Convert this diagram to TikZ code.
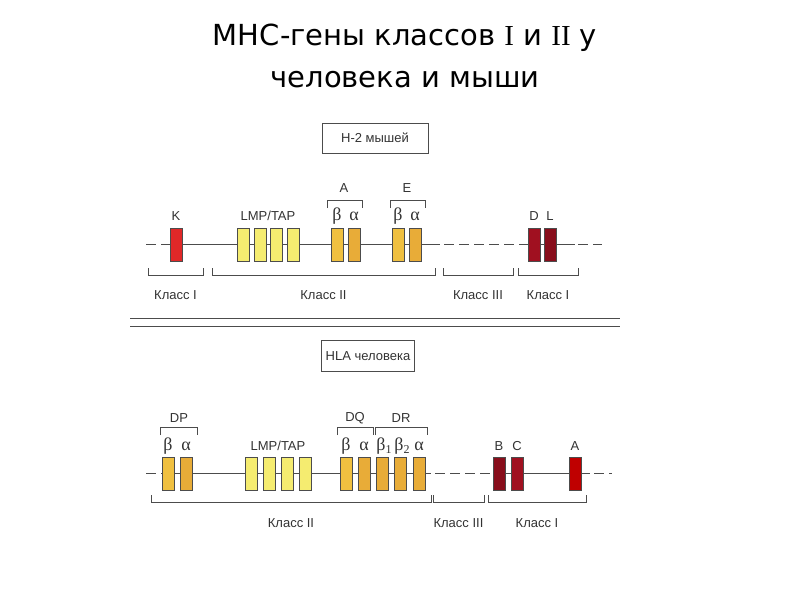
\documentclass[tikz,border=0pt]{standalone}
\usepackage{fontspec}
\setmainfont{DejaVu Sans}
\newfontfamily\lab{Liberation Sans}
\newfontfamily\ser{Liberation Serif}
\begin{document}
\begin{tikzpicture}[x=1pt,y=-1pt,
  gene/.style={draw=black!70,line width=0.5pt,minimum width=12pt,minimum height=33pt,inner sep=0pt,anchor=north west},
  lt/.style={font=\lab\fontsize{13}{13}\selectfont,text=black!80},
  gr/.style={font=\ser\fontsize{18}{18}\selectfont,text=black!80,inner sep=1pt},
  ln/.style={black!70,line width=0.7pt},
  dl/.style={ln,dash pattern=on 10pt off 5pt}]
\useasboundingbox[fill=white] (0,0) rectangle (800,600);
\definecolor{red1}{HTML}{E02828}
\definecolor{dred}{HTML}{A01020}
\definecolor{ly}{HTML}{F5EC70}
\definecolor{gy}{HTML}{F0C040}
\definecolor{gy2}{HTML}{E8AC38}
\node[font=\fontsize{29}{29}\selectfont] (t1) at (405,38) {MHC-гены классов {\ser I} и {\ser II} у};
\node[font=\fontsize{29}{29}\selectfont] (t2) at (405,80) {человека и мыши};
% top
\node[draw=black!70,lt,minimum width=106pt,minimum height=30pt] (h2) at (375,138) {H-2 мышей};
\draw[dl] (146,244) -- (170,244);
\draw[ln] (170,244) -- (440,244);
\draw[dl] (444,244) -- (522,244);
\draw[ln] (522,244) -- (575,244);
\draw[dl] (578,244) -- (602,244);
\node[gene,fill=red1] (K) at (170,228) {};
\foreach \x/\n in {237/m1,254/m2,270/m3,287/m4}{\node[gene,fill=ly] (\n) at (\x,228) {};}
\node[gene,fill=gy] (Ab) at (331,228) {};
\node[gene,fill=gy2] (Aa) at (348,228) {};
\node[gene,fill=gy] (Eb) at (392,228) {};
\node[gene,fill=gy2] (Ea) at (409,228) {};
\node[gene,fill=dred] (D) at (528,228) {};
\node[gene,fill=dred!85!black] (L) at (544,228) {};
\node[lt] (lK) at (176,216) {K};
\node[lt] (lLMP) at (268,216) {LMP/TAP};
\node[gr] (lAb) at (337,216) {β};
\node[gr] (lAa) at (354,216) {α};
\node[gr] (lEb) at (398,216) {β};
\node[gr] (lEa) at (415,216) {α};
\node[lt] (lD) at (534,216) {D};
\node[lt] (lL) at (550,216) {L};
\node[lt] (lA) at (344,188) {A};
\node[lt] (lE) at (407,188) {E};
\draw[ln,line width=0.5pt] (327,208) -- (327,200) -- (362,200) -- (362,208);
\draw[ln,line width=0.5pt] (390,208) -- (390,200) -- (425,200) -- (425,208);
\foreach \a/\b/\t/\n in {148/203/Класс I/c1,212/435/Класс II/c2,443/513/Класс III/c3,518/578/Класс I/c4}{
  \draw[ln,line width=0.5pt] (\a,268) -- (\a,275) -- (\b,275) -- (\b,268);
  \node[lt] (\n) at ({(\a+\b)/2},295) {\t};}
\draw[ln,line width=0.8pt] (130,318) -- (620,318) (130,326) -- (620,326);
% bottom
\node[draw=black!70,lt,minimum width=93pt,minimum height=31pt] (hla) at (368,356) {HLA человека};
\draw[dl] (146,473) -- (162,473);
\draw[ln] (162,473) -- (431,473);
\draw[dl] (435,473) -- (493,473);
\draw[ln] (493,473) -- (590,473);
\draw[dl] (594,473) -- (612,473);
\node[gene,fill=gy] (Pb) at (162,457) {};
\node[gene,fill=gy2] (Pa) at (180,457) {};
\foreach \x/\n in {245/n1,263/n2,281/n3,299/n4}{\node[gene,fill=ly] (\n) at (\x,457) {};}
\node[gene,fill=gy] (Qb) at (340,457) {};
\node[gene,fill=gy2] (Qa) at (358,457) {};
\node[gene,fill=gy2] (Rb1) at (376,457) {};
\node[gene,fill=gy2] (Rb2) at (394,457) {};
\node[gene,fill=gy2] (Ra) at (413,457) {};
\node[gene,fill=dred!85!black] (B) at (493,457) {};
\node[gene,fill=dred] (C) at (511,457) {};
\node[gene,fill=red!75!black] (Ah) at (569,457) {};
\node[gr] (lPb) at (168,446) {β};
\node[gr] (lPa) at (186,446) {α};
\node[lt] (lLMP2) at (278,446) {LMP/TAP};
\node[gr] (lQb) at (346,446) {β};
\node[gr] (lQa) at (364,446) {α};
\node[gr] (lRb1) at (384,446) {β\raisebox{-3pt}{\fontsize{12}{12}\selectfont 1}};
\node[gr] (lRb2) at (402,446) {β\raisebox{-3pt}{\fontsize{12}{12}\selectfont 2}};
\node[gr] (lRa) at (419,446) {α};
\node[lt] (lB) at (499,446) {B};
\node[lt] (lC) at (517,446) {C};
\node[lt] (lAh) at (575,446) {A};
\node[lt] (lDP) at (179,418) {DP};
\node[lt] (lDQ) at (355,418) {DQ};
\node[lt] (lDR) at (401,418) {DR};
\draw[ln,line width=0.5pt] (160,435) -- (160,427) -- (197,427) -- (197,435);
\draw[ln,line width=0.5pt] (337,435) -- (337,427) -- (373,427) -- (373,435);
\draw[ln,line width=0.5pt] (375,435) -- (375,427) -- (427,427) -- (427,435);
\foreach \a/\b/\t/\n in {151/431/Класс II/d2,433/484/Класс III/d3,488/586/Класс I/d1}{
  \draw[ln,line width=0.5pt] (\a,495) -- (\a,502) -- (\b,502) -- (\b,495);
  \node[lt] (\n) at ({(\a+\b)/2},523) {\t};}
\end{tikzpicture}
\end{document}
